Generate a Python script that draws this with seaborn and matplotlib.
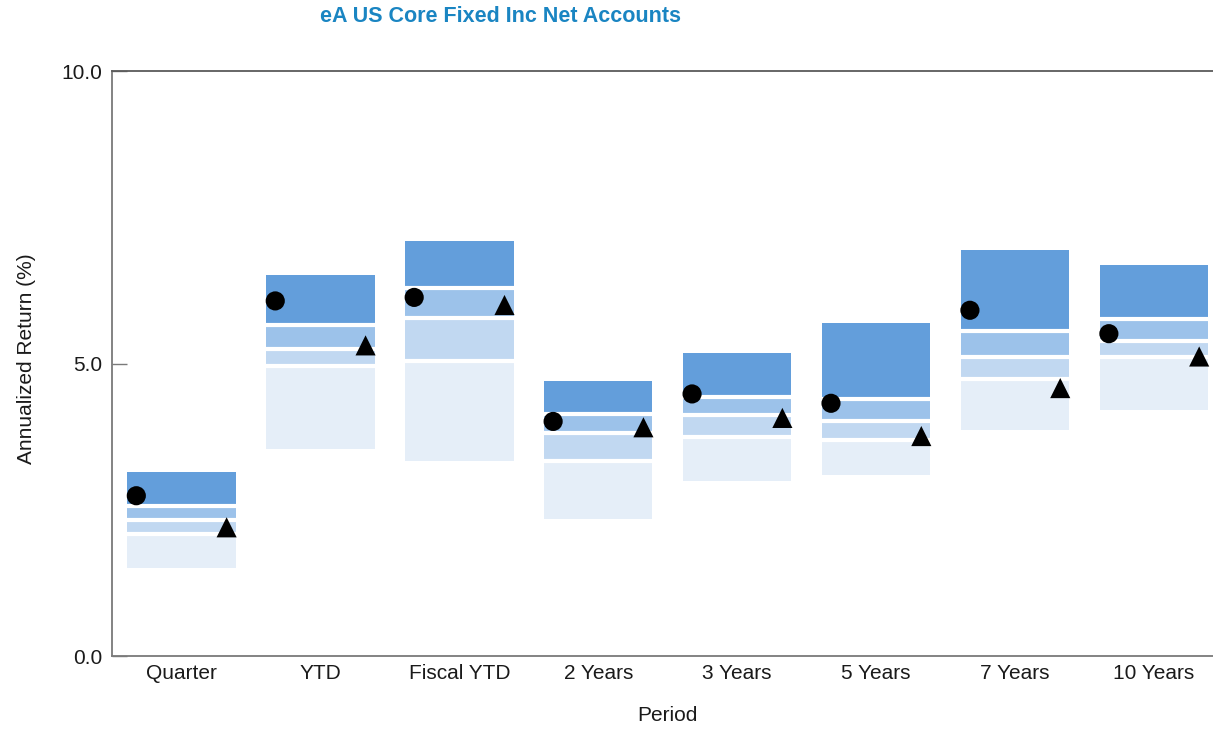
import matplotlib
matplotlib.use("Agg")
import matplotlib.pyplot as plt
import seaborn as sns
import pandas as pd

periods = ["Quarter", "YTD", "Fiscal YTD", "2 Years", "3 Years", "5 Years", "7 Years", "10 Years"]

# Universe percentile breakpoints (annualized return, %)
pct_5 = [3.15, 6.51, 7.09, 4.70, 5.18, 5.69, 6.94, 6.68]
pct_25 = [2.57, 5.65, 6.29, 4.14, 4.43, 4.40, 5.56, 5.76]
pct_50 = [2.32, 5.25, 5.77, 3.82, 4.12, 4.02, 5.11, 5.38]
pct_75 = [2.08, 4.95, 5.05, 3.33, 3.74, 3.70, 4.74, 5.11]
pct_95 = [1.51, 3.54, 3.34, 2.34, 2.99, 3.09, 3.86, 4.21]

# Portfolio (circle) and benchmark (triangle) returns
portfolio = [2.74, 6.07, 6.13, 4.01, 4.48, 4.32, 5.91, 5.51]
benchmark = [2.20, 5.31, 6.00, 3.91, 4.07, 3.76, 4.58, 5.12]

band_colors = ["#639EDB", "#9CC2EA", "#C1D8F1", "#E5EEF8", "#FFFFFF"]

sns.set_theme(style="white")
plt.rcParams["font.family"] = ["Liberation Sans", "DejaVu Sans"]

fig = plt.figure(figsize=(12.13, 7.29), dpi=100)
ax_left = 112 / 1213
ax_width = (1223.5 - 112) / 1213
ax = fig.add_axes([ax_left, 0.1001, ax_width, 0.8025])

df = pd.DataFrame({"period": periods, "p5": pct_5, "p25": pct_25, "p50": pct_50,
                   "p75": pct_75, "p95": pct_95,
                   "portfolio": portfolio, "benchmark": benchmark})

bar_w = 0.78
# Layered bars from tallest to shortest give the floating quartile bands
for col, color in zip(["p5", "p25", "p50", "p75", "p95"], band_colors):
    sns.barplot(data=df, x="period", y=col, color=color, saturation=1,
                width=bar_w, errorbar=None, linewidth=0, ax=ax, zorder=1)

# White separators at quartile boundaries
for i, row in df.iterrows():
    for v in (row["p25"], row["p50"], row["p75"]):
        ax.hlines(v, i - bar_w / 2, i + bar_w / 2, color="white", lw=3.0, zorder=2)

xpos = list(range(len(periods)))
off = 0.325
sns.scatterplot(x=[x - off for x in xpos], y=df["portfolio"], marker="o", s=190,
                color="black", edgecolor="none", ax=ax, zorder=4, legend=False)
sns.scatterplot(x=[x + off for x in xpos], y=df["benchmark"], marker="^", s=210,
                color="black", edgecolor="none", ax=ax, zorder=4, legend=False)

ax.set_xlim(-0.5, 7.5)
ax.set_ylim(0, 10)
ax.set_yticks([0, 5, 10])
ax.set_yticklabels(["0.0", "5.0", "10.0"])
ax.set_xticks(xpos)
ax.set_xticklabels(periods)

spine_c = "#7a7a7a"
for side in ("left", "top", "bottom"):
    ax.spines[side].set_visible(True)
    ax.spines[side].set_color(spine_c)
    ax.spines[side].set_linewidth(1.3)
ax.spines["right"].set_visible(False)
ax.spines["top"].set_color("#5a5a5a")

ax.tick_params(axis="y", direction="in", length=11, width=1.0, color=spine_c,
               labelsize=15, labelcolor="#1a1a1a", pad=7, left=True)
ax.tick_params(axis="x", length=0, labelsize=15, labelcolor="#1a1a1a", pad=6)

ax.set_xlabel("Period", fontsize=15, color="#1a1a1a", labelpad=16)
ax.set_ylabel("Annualized Return (%)", fontsize=15, color="#1a1a1a", va="center")
ax.yaxis.set_label_coords(-0.077, 0.508)

fig.text(501 / 1213, 1 - 17 / 729, "eA US Core Fixed Inc Net Accounts",
         ha="center", va="center", fontsize=15.5, fontweight="bold", color="#1A85C2")

fig.savefig("out.png", dpi=100)
